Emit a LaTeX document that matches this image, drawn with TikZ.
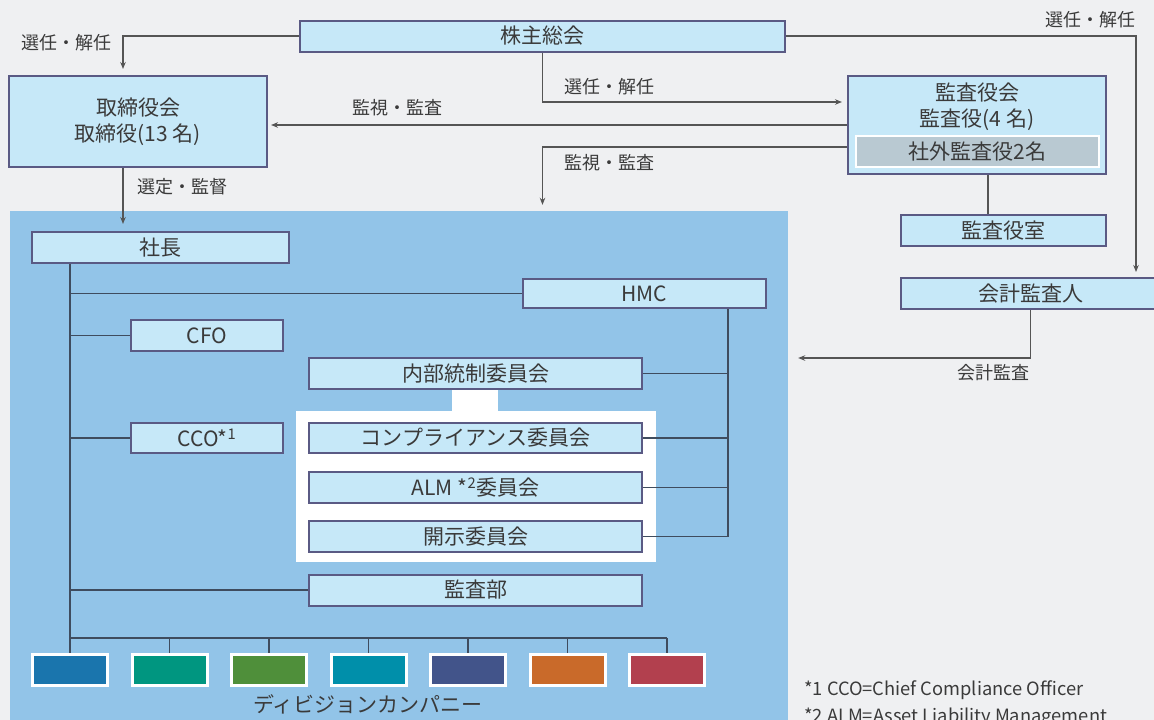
\documentclass[tikz,border=0pt]{standalone}
\usepackage{fontspec}
\setmainfont{Noto Sans CJK JP}
\usetikzlibrary{arrows.meta}
\definecolor{bg}{HTML}{EFF0F2}
\definecolor{region}{HTML}{92C4E8}
\definecolor{boxfill}{HTML}{C6E8F8}
\definecolor{boxline}{HTML}{5A5A84}
\definecolor{grayfill}{HTML}{B9C9D2}
\definecolor{txt}{HTML}{3A3A3A}
\definecolor{linecol}{HTML}{555555}
\definecolor{inline}{HTML}{3F4C5E}
\definecolor{d1}{HTML}{1A75AD}
\definecolor{d2}{HTML}{009680}
\definecolor{d3}{HTML}{4F8F3A}
\definecolor{d4}{HTML}{008FAA}
\definecolor{d5}{HTML}{42548A}
\definecolor{d6}{HTML}{C96A2A}
\definecolor{d7}{HTML}{B2404E}
\tikzset{
  box/.style={draw=boxline, fill=boxfill, line width=2pt, inner sep=0pt, text=txt,
    font=\fontsize{21}{26}\selectfont, align=center},
  plain/.style={inner sep=0pt, text=txt, font=\fontsize{21}{26}\selectfont, align=center},
  lab/.style={inner sep=0pt, text=txt, font=\fontsize{18}{22}\selectfont},
  foot/.style={inner sep=0pt, text=txt, font=\fontsize{18.3}{22}\selectfont, anchor=west},
  conn/.style={draw=linecol, line width=1.2pt},
  inconn/.style={draw=inline, line width=1.3pt},
  arr/.style={conn, -{Stealth[length=7pt,width=5.5pt]}},
  divbox/.style={draw=white, line width=3pt, minimum width=75pt, minimum height=31pt, inner sep=0pt},
}
\begin{document}
\begin{tikzpicture}[x=1pt,y=-1pt]
\useasboundingbox (0,0) rectangle (1154,720);
\clip (0,0) rectangle (1154,720);
\fill[bg] (0,0) rectangle (1154,720);

% company region
\node[fill=region, minimum width=778pt, minimum height=520pt, inner sep=0pt] (company) at (399,471) {};
\fill[white] (296,411) rectangle (656,562);
\fill[white] (452,389) rectangle (498,411);

% top boxes
\node[box, minimum width=485pt, minimum height=31pt] (sokai) at (542.5,36) {株主総会};
\node[box, minimum width=258pt, minimum height=91pt] (torishimari) at (138,121.5) {取締役会\\取締役(13 名)};
\node[box, minimum width=258pt, minimum height=98pt] (kansa) at (977,125) {};
\node[plain] (kansaText) at (977,107) {監査役会\\監査役(4 名)};
\node[draw=white, fill=grayfill, line width=2.5pt, minimum width=243pt, minimum height=31pt, inner sep=0pt, text=txt, font=\fontsize{21}{26}\selectfont] (shagai) at (977.5,151.5) {社外監査役2名};
\node[box, minimum width=205pt, minimum height=31pt] (kansashitsu) at (1003.5,230.5) {監査役室};
\node[box, minimum width=259pt, minimum height=31pt] (kaikei) at (1030.5,293.5) {会計監査人};

% company boxes
\node[box, minimum width=257pt, minimum height=31pt] (shacho) at (160.5,247.5) {社長};
\node[box, minimum width=243pt, minimum height=29pt] (hmc) at (644.5,293.5) {HMC};
\node[box, minimum width=152pt, minimum height=31pt] (cfo) at (207,335.5) {CFO};
\node[box, minimum width=152pt, minimum height=30pt] (cco) at (207,438) {CCO*\textsuperscript{1}};
\node[box, minimum width=333pt, minimum height=31pt] (naibu) at (475.5,373.5) {内部統制委員会};
\node[box, minimum width=333pt, minimum height=30pt] (comp) at (475.5,438) {コンプライアンス委員会};
\node[box, minimum width=333pt, minimum height=31pt] (alm) at (475.5,487.5) {ALM *\textsuperscript{2}委員会};
\node[box, minimum width=333pt, minimum height=31pt] (kaiji) at (475.5,536.5) {開示委員会};
\node[box, minimum width=333pt, minimum height=31pt] (kansabu) at (475.5,590) {監査部};

% division companies
\node[divbox, fill=d1] (div1) at (70,669.5) {};
\node[divbox, fill=d2] (div2) at (169.5,669.5) {};
\node[divbox, fill=d3] (div3) at (269,669.5) {};
\node[divbox, fill=d4] (div4) at (368.5,669.5) {};
\node[divbox, fill=d5] (div5) at (468,669.5) {};
\node[divbox, fill=d6] (div6) at (567.5,669.5) {};
\node[divbox, fill=d7] (div7) at (667,669.5) {};
\node[plain] (divlabel) at (368,704) {ディビジョンカンパニー};

% labels
\node[lab] (l1) at (66,43) {選任・解任};
\node[lab] (l2) at (609,87) {選任・解任};
\node[lab] (l3) at (397,108) {監視・監査};
\node[lab] (l4) at (609,163) {監視・監査};
\node[lab] (l5) at (1090,20) {選任・解任};
\node[lab] (l6) at (182,187) {選定・監督};
\node[lab] (l7) at (993,373) {会計監査};
\node[foot] (f1) at (804,690) {*1 CCO=Chief Compliance Officer};
\node[foot] (f2) at (804,717) {*2 ALM=Asset Liability Management};

% upper connectors
\draw[arr, shorten >=6pt] (sokai.west) -| ([xshift=-15pt]torishimari.north);
\draw[arr, shorten >=5pt] (sokai.south) |- ([yshift=23pt]kansa.west);
\draw[arr, shorten >=3pt] (kansa.west) -- (torishimari.east |- kansa.west);
\draw[arr, shorten >=6pt] ([yshift=-22pt]kansa.west) -| (sokai.south |- company.north);
\draw[arr, shorten >=5pt] (sokai.east) -| ([xshift=105.5pt]kaikei.north);
\coordinate (k1) at ([xshift=11pt]kansa.south);
\draw[conn] (k1) -- (k1 |- kansashitsu.north);
\draw[arr, shorten >=10pt] (kaikei.south) |- (company.east |- 0,358);
\coordinate (t1) at ([xshift=-15pt]torishimari.south);
\draw[arr, shorten >=7pt] (t1) -- (t1 |- shacho.north);

% company connectors
\coordinate (tT) at (shacho.south -| 70,0);
\coordinate (bus) at (70,638);
\draw[inconn] (tT) -- (div1.north);
\draw[inconn] (tT |- hmc.west) -- (hmc.west);
\draw[inconn] (tT |- cfo.west) -- (cfo.west);
\draw[inconn] (tT |- cco.west) -- (cco.west);
\draw[inconn] (tT |- kansabu.west) -- (kansabu.west);
\draw[inconn] (bus) -- (bus -| div7.north);
\foreach \i in {2,...,7} { \draw[inconn] (bus -| div\i.north) -- (div\i.north); }
\coordinate (r1) at (hmc.south -| 728,0);
\draw[inconn] (r1) -- (r1 |- kaiji.east);
\draw[inconn] (naibu.east) -- (r1 |- naibu.east);
\draw[inconn] (comp.east) -- (r1 |- comp.east);
\draw[inconn] (alm.east) -- (r1 |- alm.east);
\draw[inconn] (kaiji.east) -- (r1 |- kaiji.east);
\end{tikzpicture}
\end{document}
